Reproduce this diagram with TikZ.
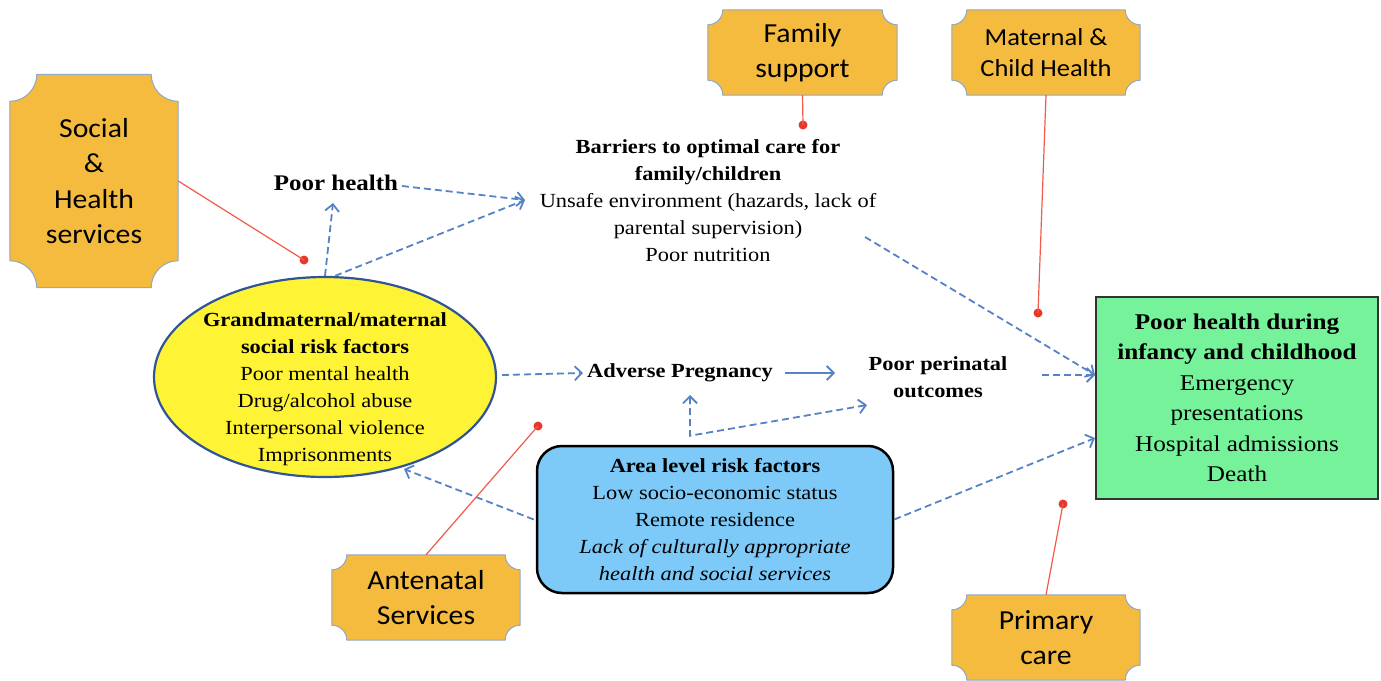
\documentclass[tikz,border=0pt]{standalone}
\usepackage{fontspec}
\setmainfont{Liberation Serif}[FakeStretch=1.12]
\newfontfamily\calfont{Carlito}[FakeStretch=1.08]
\usetikzlibrary{arrows.meta,shapes.geometric,calc}
\pgfdeclarelayer{bg}\pgfsetlayers{bg,main}
\definecolor{plaqueorange}{HTML}{F4BB3E}
\definecolor{plaqueline}{HTML}{8EA8C8}
\definecolor{ellyellow}{HTML}{FFF335}
\definecolor{ellline}{HTML}{2F5597}
\definecolor{areablue}{HTML}{7DC9F8}
\definecolor{greenfill}{HTML}{76F39A}
\definecolor{arrowblue}{HTML}{5683C4}
\definecolor{pinred}{HTML}{F05A4B}
\definecolor{dotred}{HTML}{E8382B}
\newcommand\plaquedraw[2]{%
 \begin{pgfonlayer}{bg}
 \path[fill=plaqueorange,draw=plaqueline,line width=1pt]
  ([xshift=#2pt]#1.north west) -- ([xshift=-#2pt]#1.north east)
  .. controls ([xshift=-#2pt,yshift=-0.552*#2pt]#1.north east) and ([xshift=-0.552*#2pt,yshift=-#2pt]#1.north east) .. ([yshift=-#2pt]#1.north east)
  -- ([yshift=#2pt]#1.south east)
  .. controls ([xshift=-0.552*#2pt,yshift=#2pt]#1.south east) and ([xshift=-#2pt,yshift=0.552*#2pt]#1.south east) .. ([xshift=-#2pt]#1.south east)
  -- ([xshift=#2pt]#1.south west)
  .. controls ([xshift=#2pt,yshift=0.552*#2pt]#1.south west) and ([xshift=0.552*#2pt,yshift=#2pt]#1.south west) .. ([yshift=#2pt]#1.south west)
  -- ([yshift=-#2pt]#1.north west)
  .. controls ([xshift=0.552*#2pt,yshift=-#2pt]#1.north west) and ([xshift=#2pt,yshift=-0.552*#2pt]#1.north west) .. ([xshift=#2pt]#1.north west)
  -- cycle;
 \end{pgfonlayer}}
\begin{document}
\begin{tikzpicture}[x=1pt,y=-1pt,
 plaque/.style={inner sep=0pt,align=center,minimum width=188pt,minimum height=85pt,
   font=\calfont\fontsize{27.5}{35.5}\selectfont},
 txt/.style={align=center,inner sep=2pt,font=\fontsize{20}{27}\selectfont},
 btxt/.style={align=center,inner sep=2pt,font=\bfseries\fontsize{20}{27}\selectfont},
 flow/.style={draw=arrowblue,line width=1.8pt,dash pattern=on 7pt off 4pt,
   -{Straight Barb[length=7pt,width=14pt]}},
 flowsolid/.style={draw=arrowblue,line width=1.8pt,-{Straight Barb[length=7pt,width=14pt]}},
 pin/.style={draw=pinred,line width=1.2pt},
 dot/.style={circle,fill=dotred,inner sep=0pt,minimum size=9pt}]
\useasboundingbox (0,0) rectangle (1381,680);
% plaques
\node[plaque,minimum width=168pt,minimum height=213pt] (social) at (94,181) {Social\\\&\\Health\\services};
\plaquedraw{social}{27}
\node[plaque,minimum width=189pt] (family) at (802.5,52.5) {Family\\support};
\plaquedraw{family}{15}
\node[plaque,font=\calfont\fontsize{24.5}{31}\selectfont] (maternal) at (1046,52.5) {Maternal \&\\Child Health};
\plaquedraw{maternal}{15}
\node[plaque] (antenatal) at (426,597.5) {Antenatal\\Services};
\plaquedraw{antenatal}{15}
\node[plaque] (primary) at (1046,637.5) {Primary\\care};
\plaquedraw{primary}{15}
% ellipse
\node[ellipse,draw=ellline,line width=2.2pt,fill=ellyellow,minimum width=342pt,minimum height=200pt,inner sep=0pt] (ell) at (325,377) {};
\node[txt] (elltext) at (325,389) {\textbf{Grandmaternal/maternal}\\\textbf{social risk factors}\\Poor mental health\\Drug/alcohol abuse\\Interpersonal violence\\Imprisonments};
% text nodes
\node[btxt,font=\bfseries\fontsize{22.3}{27}\selectfont] (ph) at (336,183) {Poor health};
\node[txt] (bar) at (708,201) {\textbf{Barriers to optimal care for}\\\textbf{family/children}\\Unsafe environment (hazards, lack of\\parental supervision)\\Poor nutrition};
\node[btxt] (adv) at (680,373) {Adverse Pregnancy};
\node[btxt] (per) at (938,377) {Poor perinatal\\outcomes};
\node[txt,draw=black,line width=2.5pt,fill=areablue,rounded corners=25pt,minimum width=356pt,minimum height=147pt] (area) at (715,519.5)
 {\textbf{Area level risk factors}\\Low socio-economic status\\Remote residence\\\textit{Lack of culturally appropriate}\\\textit{health and social services}};
\node[txt,font=\fontsize{22.5}{30.5}\selectfont,draw=black!80,line width=1.8pt,fill=greenfill,minimum width=282pt,minimum height=202pt] (green) at (1237,398)
 {\textbf{Poor health during}\\\textbf{infancy and childhood}\\Emergency\\presentations\\Hospital admissions\\Death};
% arrows
\draw[flow] (ell.north) -- ($(ph.center)+(-3,20)$);
\draw[flow] ($(ell.north)+(10,0)$) -- ($(bar.center)+(-183,-1)$);
\draw[flow] ($(ph.center)+(66,3)$) -- ($(bar.center)+(-183,-1)$);
\draw[flow] ($(bar.center)+(157,36)$) -- ($(green.center)+(-142,-23)$);
\draw[flow] ($(ell.center)+(177,-2)$) -- ($(adv.center)+(-97,0)$);
\draw[flowsolid] ($(adv.center)+(105,0)$) -- ($(per.center)+(-103,-4)$);
\draw[flow] ($(per.center)+(104,-2)$) -- ($(green.center)+(-142,-23)$);
\coordinate (elb) at ($(area.north)+(-25,-9)$);
\draw[flow,{Straight Barb[length=7pt,width=14pt]}-{Straight Barb[length=7pt,width=14pt]}] ($(adv.center)+(10,22)$) -- (elb) -- ($(per.center)+(-71,28)$);
\draw[flow] ($(area.west)+(-2,0)$) -- ($(ell.center)+(79,92)$);
\draw[flow] (area.east) -- ($(green.center)+(-142,40)$);
% pins
\node[dot] (d1) at (304,260) {};
\node[dot] (d2) at (803,125) {};
\node[dot] (d3) at (1038,313) {};
\node[dot] (d4) at (538,426) {};
\node[dot] (d5) at (1063,504) {};
\draw[pin] (social.east) -- (d1.center);
\draw[pin] (family.south) -- (d2.center);
\draw[pin] (maternal.south) -- (d3.center);
\draw[pin] (antenatal.north) -- (d4.center);
\draw[pin] (primary.north) -- (d5.center);
\end{tikzpicture}
\end{document}
